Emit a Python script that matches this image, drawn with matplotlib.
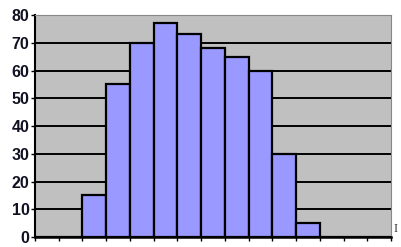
import matplotlib
matplotlib.use("Agg")
import matplotlib.pyplot as plt

counts = [0, 0, 15, 55, 70, 77, 73, 68, 65, 60, 30, 5, 0, 0, 0]
y_ticks = [0, 10, 20, 30, 40, 50, 60, 70, 80]

fig = plt.figure(figsize=(4.01, 2.47), dpi=100)
ax = fig.add_axes([0.0873, 0.0405, 0.8877, 0.8985])
ax.set_facecolor("#C0C0C0")
ax.set_xlim(0, len(counts))
ax.set_ylim(0, 80)
ax.set_yticks(y_ticks)
ax.set_yticklabels([str(v) for v in y_ticks], fontsize=11.5, fontweight="bold",
                   color="#111122", family="Liberation Sans")
ax.set_xticks(range(len(counts) + 1))
ax.set_xticklabels([])
ax.yaxis.grid(True, color="black", linewidth=1.4)
ax.set_axisbelow(True)
ax.bar(range(len(counts)), counts, width=1.0, align="edge", color="#9999FF",
       edgecolor="black", linewidth=1.6, zorder=3)
for s in ["top", "right"]:
    ax.spines[s].set_color("#888888")
    ax.spines[s].set_linewidth(0.8)
ax.spines["left"].set_linewidth(1.5)
ax.spines["bottom"].set_linewidth(1.8)
ax.tick_params(axis="y", length=3, width=1, pad=1)
ax.tick_params(axis="x", length=3, width=1, direction="out")
fig.text(0.987, 0.05, "I", fontsize=9, family="Liberation Serif", color="#333333",
         ha="center", va="bottom")
fig.savefig("out.png", dpi=100)
